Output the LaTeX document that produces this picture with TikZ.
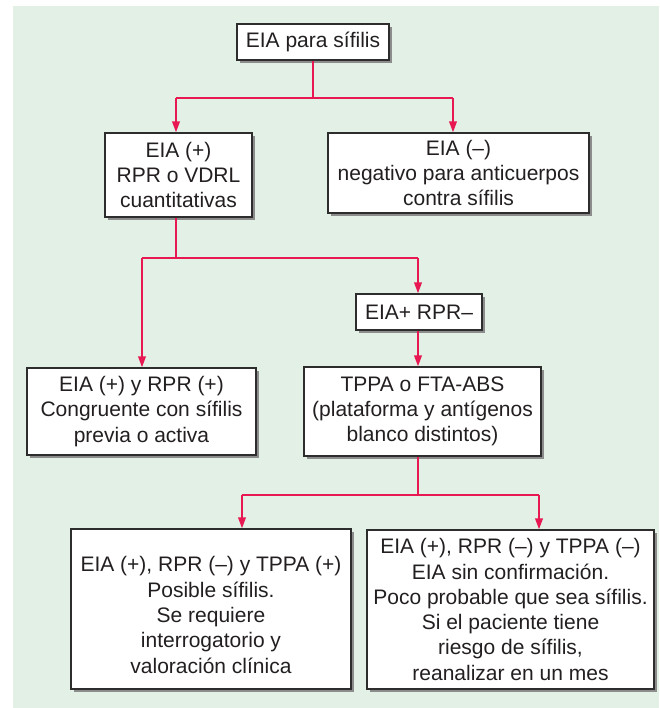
\documentclass[tikz,border=0pt]{standalone}
\usepackage{fontspec}
\setmainfont{Liberation Sans}
\usetikzlibrary{arrows.meta,shadows,calc}

\definecolor{panelbg}{RGB}{226,240,230}
\definecolor{linkred}{RGB}{232,24,82}
\definecolor{boxline}{RGB}{45,45,45}
\definecolor{boxshadow}{RGB}{140,140,140}
\definecolor{inktext}{RGB}{35,31,32}

\tikzset{
  box/.style={draw=boxline, line width=1.2pt, fill=white, inner sep=0pt,
    align=center, text=inktext,
    font=\fontsize{21}{25.3}\selectfont,
    drop shadow={shadow xshift=2.6pt, shadow yshift=-2.6pt, fill=boxshadow, opacity=1}},
  boxtext/.style={inner sep=0pt, align=center, text=inktext,
    font=\fontsize{21}{25.3}\selectfont},
  link/.style={draw=linkred, line width=2pt},
  arr/.style={link, -{Triangle[length=11pt,width=7.5pt]}},
}

\begin{document}
\begin{tikzpicture}[x=1pt, y={(0pt,-1pt)}]
  \useasboundingbox (0,0) rectangle (659,708);
  \fill[panelbg] (13,6) rectangle (659,708);

  % boxes
  \node[box, minimum width=152pt, minimum height=36pt] (b0) at (313,42) {EIA para sífilis};
  \node[box, minimum width=147pt, minimum height=84pt] (b1) at (178.5,175)
    {EIA (+)\\RPR o VDRL\\cuantitativas};
  \node[box, minimum width=261pt, minimum height=80pt] (b2) at (458.5,173)
    {EIA (–)\\negativo para anticuerpos\\contra sífilis};
  \node[box, minimum width=126pt, minimum height=36pt] (b3) at (419,312) {EIA+ RPR–};
  \node[box, minimum width=229pt, minimum height=87pt] (b4) at (141.5,411.5)
    {EIA (+) y RPR (+)\\Congruente con sífilis\\previa o activa};
  \node[box, minimum width=237pt, minimum height=89pt] (b5) at (422.5,411.5)
    {TPPA o FTA-ABS\\(plataforma y antígenos\\blanco distintos)};
  \node[box, minimum width=280pt, minimum height=160pt] (b6) at (211,609) {};
  \node[boxtext] (b6t) at (211,615)
    {EIA (+), RPR (–) y TPPA (+)\\Posible sífilis.\\Se requiere\\interrogatorio y\\valoración clínica};
  \node[box, minimum width=287pt, minimum height=159pt] (b7) at (510.5,609.5)
    {EIA (+), RPR (–) y TPPA (–)\\EIA sin confirmación.\\Poco probable que sea sífilis.\\Si el paciente tiene\\riesgo de sífilis,\\reanalizar en un mes};

  % branch points
  \coordinate (t1) at (176,98);
  \coordinate (t2) at (453,98);
  \coordinate (u1) at (142,258);
  \coordinate (u2) at (418,258);
  \coordinate (v1) at (242,495);
  \coordinate (v2) at (539,495);

  % first split
  \draw[link] (b0.south) -- (b0.south |- t1);
  \draw[link] (t1) -- (t2);
  \draw[arr] (t1) -- (t1 |- b1.north);
  \draw[arr] (t2) -- (t2 |- b2.north);

  % second split
  \draw[link] (t1 |- b1.south) -- (t1 |- u1);
  \draw[link] (u1) -- (u2);
  \draw[arr] (u1) -- (u1 |- b4.north);
  \draw[arr] (u2) -- (u2 |- b3.north);
  \draw[arr] (u2 |- b3.south) -- (u2 |- b5.north);

  % third split
  \draw[link] (u2 |- b5.south) -- (u2 |- v1);
  \draw[link] (v1) -- (v2);
  \draw[arr] (v1) -- (v1 |- b6.north);
  \draw[arr] (v2) -- (v2 |- b7.north);
\end{tikzpicture}
\end{document}
